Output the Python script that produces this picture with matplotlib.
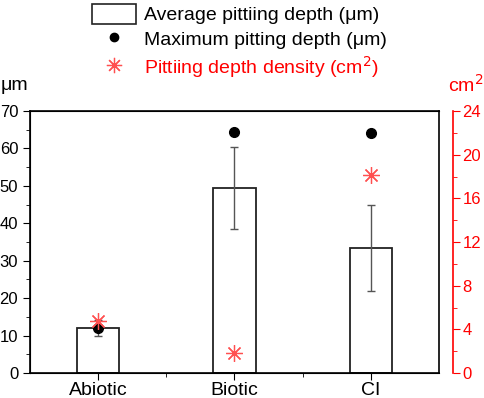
import numpy as np
import matplotlib.pyplot as plt
from matplotlib.patches import Patch
from matplotlib.lines import Line2D
from matplotlib.ticker import MultipleLocator

plt.rcParams['font.family'] = ['Liberation Sans', 'DejaVu Sans']

samples = ['Abiotic', 'Biotic', 'CI']
avg_depth = [12.0, 49.5, 33.5]
avg_err = [2.2, 11.0, 11.5]
max_depth = [12.1, 64.5, 64.2]
density = [4.8, 1.85, 18.1]

x = np.arange(len(samples))
star_color = '#ff5050'

fig = plt.figure(figsize=(4.84, 3.98), dpi=100)
ax = fig.add_axes([30 / 484, 1 - 373 / 398, 409 / 484, 262 / 398])

ax.bar(x, avg_depth, width=0.31, color='white', edgecolor='#222222',
       linewidth=1.3, zorder=2)
ax.errorbar(x, avg_depth, yerr=avg_err, fmt='none', ecolor='#555555',
            elinewidth=1, capsize=3, capthick=1, zorder=3)
ax.plot(x, max_depth, 'o', color='black', markersize=7, zorder=4)

ax.set_xlim(-0.5, 2.5)
ax.set_ylim(0, 70)
ax.set_xticks(x)
ax.set_xticklabels(samples, fontsize=14)
ax.set_xticks([0.5, 1.5], minor=True)
ax.yaxis.set_major_locator(MultipleLocator(10))
ax.yaxis.set_minor_locator(MultipleLocator(5))
ax.tick_params(axis='both', which='major', direction='out', length=5, labelsize=12)
ax.tick_params(axis='x', which='major', labelsize=14, pad=1.5)
ax.tick_params(axis='both', which='minor', direction='out', length=3)
for s in ax.spines.values():
    s.set_linewidth(1.2)

ax2 = ax.twinx()
ax2.plot(x, density, linestyle='none', marker=(8, 2, 0), color=star_color,
         markersize=12, markeredgewidth=0.9, zorder=5)
ax2.set_ylim(0, 24)
ax2.yaxis.set_major_locator(MultipleLocator(4))
ax2.yaxis.set_minor_locator(MultipleLocator(2))
ax2.spines['right'].set_position(('outward', 10))
ax2.spines['right'].set_color('red')
ax2.spines['right'].set_linewidth(1.2)
ax2.tick_params(axis='y', which='major', direction='out', length=5,
                colors='red', labelsize=12, pad=2)
ax2.tick_params(axis='y', which='minor', direction='out', length=3, colors='red')

fig.text(1 / 484, 1 - 85 / 398, 'μm', fontsize=14, va='center', ha='left')
fig.text(483 / 484, 1 - 85 / 398, 'cm$^2$', fontsize=14, va='center',
         ha='right', color='red')

handles = [
    Patch(facecolor='white', edgecolor='#222222', linewidth=1.2),
    Line2D([], [], linestyle='none', marker='o', color='black', markersize=6),
    Line2D([], [], linestyle='none', marker=(8, 2, 0), color=star_color,
           markersize=11, markeredgewidth=0.9),
]
labels = ['Average pittiing depth (μm)', 'Maximum pitting depth (μm)',
          'Pittiing depth density (cm$^2$)']
leg = fig.legend(handles, labels, loc='upper left',
                 bbox_to_anchor=(80 / 484, 1.0 + 8 / 398), frameon=False, fontsize=14,
                 handlelength=2.3, handleheight=1.2, handletextpad=0.4,
                 labelspacing=0.24, borderpad=0.1)
leg.get_texts()[2].set_color('red')

fig.savefig('out.png', dpi=100)
